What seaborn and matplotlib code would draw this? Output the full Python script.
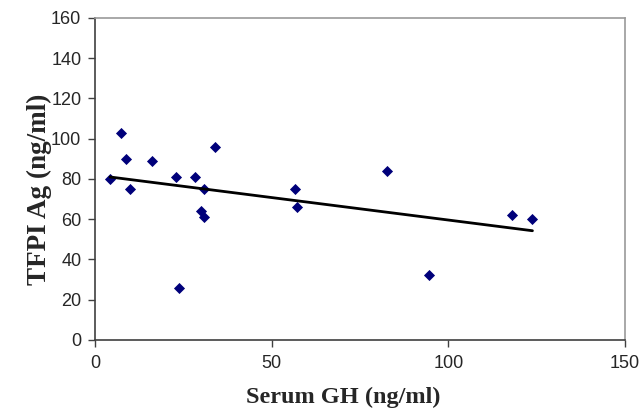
import matplotlib
matplotlib.use("Agg")
import matplotlib.pyplot as plt
import pandas as pd
import seaborn as sns

sns.set_theme(style="white")
plt.rcParams["font.family"] = ["Liberation Sans", "DejaVu Sans"]

# values
serum_gh = [4.2, 7.3, 8.8, 9.9, 16.1, 22.9, 23.6, 28.4, 30.7, 30.0, 30.8, 33.9,
            56.6, 57.1, 82.7, 94.6, 117.9, 123.8]
tfpi_ag = [80, 103, 90, 75, 89, 81, 26, 81, 75, 64, 61, 96,
           75, 66, 84, 32, 62, 60]
x_ticks = [0, 50, 100, 150]
y_ticks = [0, 20, 40, 60, 80, 100, 120, 140, 160]

df = pd.DataFrame({"gh": serum_gh, "tfpi": tfpi_ag})

fig, ax = plt.subplots(figsize=(6.43, 4.08), dpi=100)
plt.subplots_adjust(left=0.148, right=0.972, top=0.956, bottom=0.167)

sns.regplot(data=df, x="gh", y="tfpi", ax=ax, ci=None, truncate=True,
            marker="D",
            scatter_kws={"color": "#00007a", "s": 32, "linewidths": 0, "alpha": 1},
            line_kws={"color": "black", "linewidth": 2})

ax.set_xlim(0, 150)
ax.set_ylim(0, 160)
ax.set_xticks(x_ticks)
ax.set_yticks(y_ticks)
ax.tick_params(axis="both", which="major", direction="out", length=5, width=1,
               color="#404040", labelsize=13, left=True, bottom=True)
ax.tick_params(axis="x", pad=6)
ax.tick_params(axis="y", pad=5)
for side in ["left", "bottom"]:
    ax.spines[side].set_color("#404040")
    ax.spines[side].set_linewidth(1.2)
for side in ["top", "right"]:
    ax.spines[side].set_color("#9a9a9a")
    ax.spines[side].set_linewidth(1.2)

serif = ["Liberation Serif", "DejaVu Serif"]
ax.set_xlabel("Serum GH (ng/ml)", family=serif, weight="bold", size=17.5)
ax.set_ylabel("TFPI Ag (ng/ml)", family=serif, weight="bold", size=19.5)
ax.xaxis.set_label_coords(0.469, -0.145)
ax.yaxis.set_label_coords(-0.081, 0.469)

plt.savefig("out.png", dpi=100)
plt.close(fig)
